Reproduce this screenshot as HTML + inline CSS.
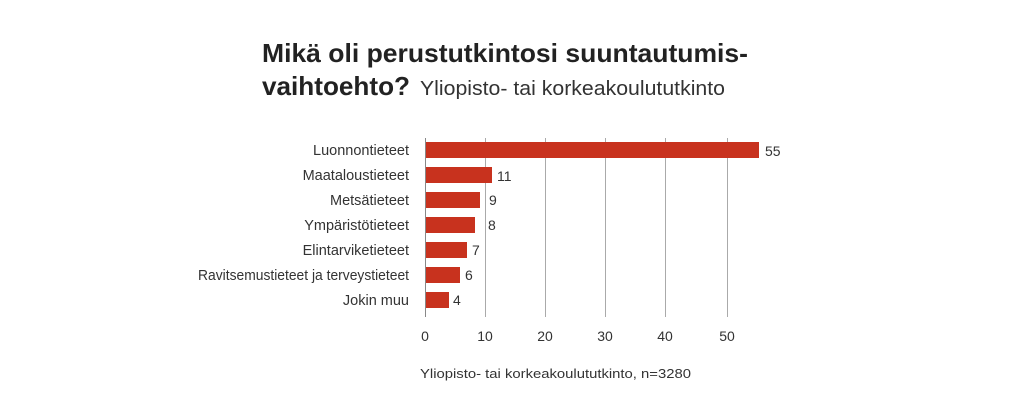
<!DOCTYPE html>
<html><head><meta charset="utf-8"><style>
html,body{margin:0;padding:0;background:#fff;}
svg{display:block;font-family:"Liberation Sans",sans-serif;}
</style></head><body>
<svg width="1024" height="420" viewBox="0 0 1024 420">
<text x="262" y="62" font-size="26" font-weight="bold" fill="#222" textLength="486" lengthAdjust="spacingAndGlyphs">Mikä oli perustutkintosi suuntautumis-</text>
<text x="262" y="95" font-size="26" font-weight="bold" fill="#222" textLength="148" lengthAdjust="spacingAndGlyphs">vaihtoehto?</text>
<text x="420" y="95" font-size="20" fill="#333" textLength="305" lengthAdjust="spacingAndGlyphs">Yliopisto- tai korkeakoulututkinto</text>
<g stroke="#aaa" stroke-width="1">
<line x1="485.5" y1="138" x2="485.5" y2="317"/>
<line x1="545.5" y1="138" x2="545.5" y2="317"/>
<line x1="605.5" y1="138" x2="605.5" y2="317"/>
<line x1="665.5" y1="138" x2="665.5" y2="317"/>
<line x1="727.5" y1="138" x2="727.5" y2="317"/>
</g>
<g fill="#c8321e">
<rect x="425" y="142" width="334" height="16"/>
<rect x="425" y="167" width="67" height="16"/>
<rect x="425" y="192" width="55" height="16"/>
<rect x="425" y="217" width="50" height="16"/>
<rect x="425" y="242" width="42" height="16"/>
<rect x="425" y="267" width="35" height="16"/>
<rect x="425" y="292" width="24" height="16"/>
</g>
<line x1="425.5" y1="138" x2="425.5" y2="317" stroke="#888" stroke-width="1"/>
<g font-size="14.5" fill="#333" text-anchor="end">
<text x="409" y="155">Luonnontieteet</text>
<text x="409" y="180">Maataloustieteet</text>
<text x="409" y="205">Metsätieteet</text>
<text x="409" y="230">Ympäristötieteet</text>
<text x="409" y="255">Elintarviketieteet</text>
<text x="409" y="280" textLength="211" lengthAdjust="spacingAndGlyphs">Ravitsemustieteet ja terveystieteet</text>
<text x="409" y="305">Jokin muu</text>
</g>
<g font-size="14" fill="#333">
<text x="765" y="156">55</text>
<text x="497" y="181">11</text>
<text x="489" y="205">9</text>
<text x="488" y="230">8</text>
<text x="472" y="255">7</text>
<text x="465" y="280">6</text>
<text x="453" y="305">4</text>
</g>
<g font-size="14" fill="#333" text-anchor="middle">
<text x="425" y="341">0</text>
<text x="485" y="341">10</text>
<text x="545" y="341">20</text>
<text x="605" y="341">30</text>
<text x="665" y="341">40</text>
<text x="727" y="341">50</text>
</g>
<text x="420" y="378" font-size="13" fill="#333" textLength="271" lengthAdjust="spacingAndGlyphs">Yliopisto- tai korkeakoulututkinto, n=3280</text>
</svg>
</body></html>
